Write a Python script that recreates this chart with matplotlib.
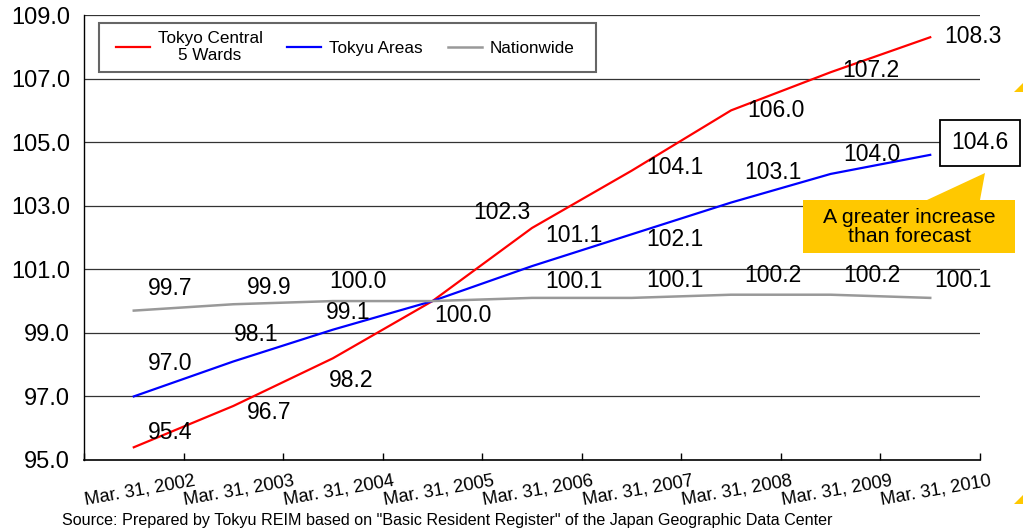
import numpy as np
import matplotlib.pyplot as plt
from matplotlib.patches import Polygon, Rectangle
from matplotlib import transforms

plt.rcParams['font.family'] = ['Liberation Sans', 'DejaVu Sans']

# Population index, Mar. 31, 2005 = 100
years = ['Mar. 31, 2002', 'Mar. 31, 2003', 'Mar. 31, 2004', 'Mar. 31, 2005',
         'Mar. 31, 2006', 'Mar. 31, 2007', 'Mar. 31, 2008', 'Mar. 31, 2009',
         'Mar. 31, 2010']
central5 = [95.4, 96.7, 98.2, 100.0, 102.3, 104.1, 106.0, 107.2, 108.3]
tokyu = [97.0, 98.1, 99.1, 100.0, 101.1, 102.1, 103.1, 104.0, 104.6]
nationwide = [99.7, 99.9, 100.0, 100.0, 100.1, 100.1, 100.2, 100.2, 100.1]

# label offsets in pixels (None = no label, the 2005 point shares one label)
off_central = [(36, 15), (36, -7), (18, -22), (30, -14), (-30, 15),
               (43, 3), (45, 0), (40, 2), (43, 1)]
off_tokyu = [(36, 33), (23, 27), (15, 17), None, (42, 31),
             (43, -5), (42, 30), (41, 19), None]
off_nation = [(36, 22), (36, 17), (25, 20), None, (42, 16),
              (43, 17), (42, 19), (41, 19), (33, 17)]

W, H = 1023, 531
fig = plt.figure(figsize=(W / 100, H / 100), dpi=100)


def px(x, y):
    return (x / W, 1 - y / H)


ax = fig.add_axes([84 / W, (H - 460) / H, 896 / W, 445 / H])
x = np.arange(len(years))

ax.plot(x, central5, color='#FF0000', lw=1.6, label='Tokyo Central\n5 Wards')
ax.plot(x, tokyu, color='#0000FF', lw=1.6, label='Tokyu Areas')
ax.plot(x, nationwide, color='#999999', lw=1.8, label='Nationwide')

ax.set_xlim(-0.5, len(years) - 0.5)
ax.set_ylim(95, 109)
yt = np.arange(95, 110, 2)
ax.set_yticks(yt)
ax.set_yticklabels([f'{v:.1f}' for v in yt], fontsize=17)
ax.tick_params(axis='y', length=0, pad=10)
for v in yt[1:]:
    ax.axhline(v, color='#333333', lw=0.9, zorder=0)

ax.set_xticks(x)
ax.set_xticklabels(years, fontsize=13.2, rotation=10)
ax.tick_params(axis='x', which='major', length=0, pad=9)
ax.set_xticks(np.arange(-0.5, len(years)), minor=True)
ax.tick_params(axis='x', which='minor', direction='in', length=5, width=1)
shift = transforms.ScaledTranslation(6 / 100, 0, fig.dpi_scale_trans)
for lbl in ax.get_xticklabels():
    lbl.set_transform(lbl.get_transform() + shift)

for s in ['top', 'right']:
    ax.spines[s].set_visible(False)
ax.spines['left'].set_linewidth(1.0)
ax.spines['bottom'].set_linewidth(1.2)

# data labels
for vals, offs in [(central5, off_central), (tokyu, off_tokyu),
                   (nationwide, off_nation)]:
    for i, (v, o) in enumerate(zip(vals, offs)):
        if o is None:
            continue
        ax.annotate(f'{v:.1f}', (i, v), xytext=o, textcoords='offset pixels',
                    ha='center', va='center', fontsize=16.5,
                    annotation_clip=False)

# boxed end value for Tokyu Areas
ax.annotate(f'{tokyu[-1]:.1f}', (8, tokyu[-1]), xytext=(50, 12),
            textcoords='offset pixels', ha='center', va='center',
            fontsize=16.5, annotation_clip=False,
            bbox=dict(boxstyle='square,pad=0.5', fc='white', ec='black', lw=1.3))

# callout
callout = Polygon([px(803, 200), px(927, 200), px(985, 173), px(980, 200),
                   px(1015, 200), px(1015, 253), px(803, 253)],
                  closed=True, transform=fig.transFigure, fc='#FFC800', ec='none')
fig.patches.append(callout)
fig.text(*px(909, 227), 'A greater increase\nthan forecast', ha='center',
         va='center', fontsize=15.3, linespacing=0.95)

# arrow tips at the right edge
for tip in [[px(1014, 92), px(1023, 83), px(1023, 92)],
            [px(1014, 504), px(1023, 495), px(1023, 504)]]:
    fig.patches.append(Polygon(tip, closed=True, transform=fig.transFigure,
                               fc='#FFC800', ec='none'))

# legend box
x0, y0 = px(99, 72)
fig.patches.append(Rectangle((x0, y0), 497 / W, 49 / H, transform=fig.transFigure,
                             fc='white', ec='#666666', lw=1.5, zorder=3))
leg = fig.legend(loc='center', bbox_to_anchor=px(345, 47), ncol=3, fontsize=12.3,
                 frameon=False, handlelength=2.0, handletextpad=0.45,
                 columnspacing=1.45, borderaxespad=0, borderpad=0)
leg.set_zorder(4)
for t in leg.get_texts():
    t.set_multialignment('center')
    t.set_linespacing(1.2)

fig.text(*px(62, 520), 'Source: Prepared by Tokyu REIM based on "Basic Resident '
         'Register" of the Japan Geographic Data Center', ha='left', va='center',
         fontsize=11.6)

plt.savefig('out.png', dpi=100)
